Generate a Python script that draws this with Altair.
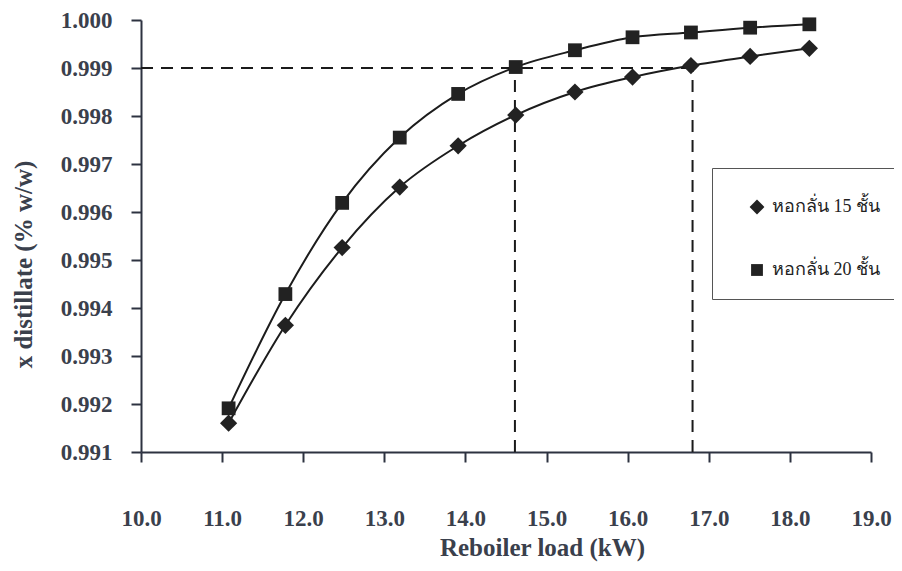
import altair as alt
import pandas as pd

# Reboiler load (kW)
load = [11.08, 11.78, 12.48, 13.19, 13.91, 14.62, 15.35, 16.06, 16.78, 17.51, 18.24]
# x distillate for each column
x_15 = [0.99160, 0.99364, 0.99526, 0.99652, 0.99738, 0.99802, 0.99850, 0.99881, 0.99905, 0.99924, 0.99941]
x_20 = [0.99191, 0.99429, 0.99619, 0.99755, 0.99846, 0.99902, 0.99937, 0.99964, 0.99974, 0.99984, 0.99991]
series_names = ["หอกลั่น 15 ชั้น", "หอกลั่น 20 ชั้น"]

# reference (dashed) lines
ref_y = 0.999
ref_x = [14.61, 16.8]

x_ticks = [10.0, 11.0, 12.0, 13.0, 14.0, 15.0, 16.0, 17.0, 18.0, 19.0]
y_ticks = [0.991, 0.992, 0.993, 0.994, 0.995, 0.996, 0.997, 0.998, 0.999, 1.000]

df = pd.DataFrame({
    "load": load + load,
    "xd": x_15 + x_20,
    "series": [series_names[0]] * len(load) + [series_names[1]] * len(load),
})
h_df = pd.DataFrame({"x0": [x_ticks[0]], "x1": [ref_x[-1]], "y": [ref_y]})
v_df = pd.DataFrame({"x": ref_x, "y0": [y_ticks[0]] * len(ref_x), "y1": [ref_y] * len(ref_x)})

TXT = "#3a404c"
AX = "#2d3240"
FONT = "Liberation Serif"
DIAMOND = "M-1.25,0L0,-1.25L1.25,0L0,1.25Z"

xscale = alt.Scale(domain=[10, 19], nice=False, zero=False)
yscale = alt.Scale(domain=[0.991, 1.0], nice=False, zero=False)

x_axis = alt.Axis(values=x_ticks, format=".1f", grid=False, tickSize=10, tickWidth=2,
                  tickColor=AX, domainColor=AX, domainWidth=2,
                  labelFont=FONT, labelFontSize=23, labelFontWeight="bold", labelColor=TXT,
                  labelPadding=45, labelFlush=False,
                  title="Reboiler load (kW)", titleFont=FONT, titleFontSize=25,
                  titleFontWeight="bold", titleColor=TXT, titleX=401, titleY=83)
y_axis = alt.Axis(values=y_ticks, format=".3f", grid=False, tickSize=10, tickWidth=2,
                  tickColor=AX, domainColor=AX, domainWidth=2,
                  labelFont=FONT, labelFontSize=23, labelFontWeight="bold", labelColor=TXT,
                  labelPadding=19, labelFlush=False,
                  title="x distillate (% w/w)", titleFont=FONT, titleFontSize=25,
                  titleFontWeight="bold", titleColor=TXT, titleY=244, titlePadding=24)

lines = alt.Chart(df).mark_line(interpolate="monotone", color="#1c1c1c", strokeWidth=2).encode(
    x=alt.X("load:Q", scale=xscale, axis=x_axis),
    y=alt.Y("xd:Q", scale=yscale, axis=y_axis),
    detail="series:N",
)

points = alt.Chart(df).mark_point(filled=True, opacity=1, color="#222222", size=190).encode(
    x=alt.X("load:Q", scale=xscale),
    y=alt.Y("xd:Q", scale=yscale),
    shape=alt.Shape("series:N", scale=alt.Scale(domain=series_names, range=[DIAMOND, "square"]),
                    legend=alt.Legend(title=" ", titleFontSize=1, titlePadding=9,
                                      orient="none", legendX=571, legendY=148,
                                      strokeColor="#555555", fillColor="white", padding=20,
                                      labelFont=FONT, labelFontSize=18, labelColor="#222222",
                                      symbolFillColor="#222222", symbolStrokeColor="#222222",
                                      symbolSize=140, symbolOffset=16, rowPadding=43,
                                      labelOffset=6)),
)

hrule = alt.Chart(h_df).mark_rule(strokeDash=[12, 8], strokeWidth=2, color="#1a1a1a").encode(
    x=alt.X("x0:Q", scale=xscale), x2="x1:Q", y=alt.Y("y:Q", scale=yscale))
vrule = alt.Chart(v_df).mark_rule(strokeDash=[12, 8], strokeWidth=2, color="#1a1a1a").encode(
    x=alt.X("x:Q", scale=xscale), y=alt.Y("y0:Q", scale=yscale), y2="y1:Q")

chart = alt.layer(hrule, vrule, lines, points).properties(
    width=730, height=432,
    padding={"left": 133, "top": 12, "right": 23, "bottom": 111},
    autosize=alt.AutoSizeParams(type="none"),
    background="white",
).configure_view(stroke=None)

chart.save("out.html", embed_options={"renderer": "svg", "actions": False})
